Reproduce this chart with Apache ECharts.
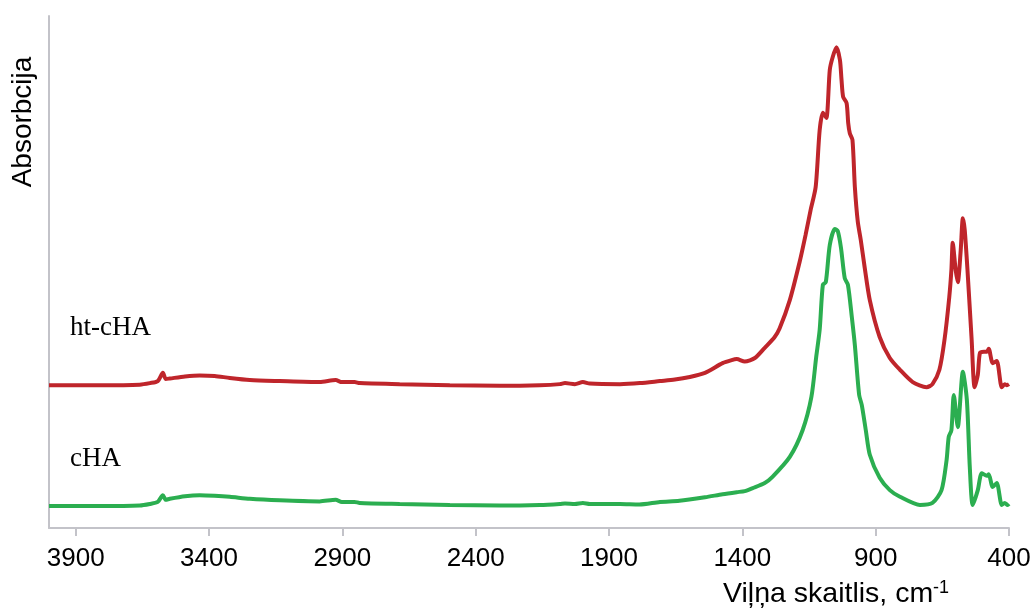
<!DOCTYPE html>
<html>
<head>
<meta charset="utf-8">
<script src="https://cdn.jsdelivr.net/npm/echarts@6/dist/echarts.min.js"></script>
<style>
  html, body { margin: 0; padding: 0; background: #fff; }
  #chart { width: 1032px; height: 610px; }
</style>
</head>
<body>
<div id="chart"></div>
<script>
  // tick values on the wavenumber axis
  var xTicks = [3900, 3400, 2900, 2400, 1900, 1400, 900, 400];

  // ht-cHA spectrum: [wavenumber, absorbance]
  var htcHA = [
    [4000, 0.279], [3810, 0.279], [3660, 0.280], [3622, 0.283], [3592, 0.287],
    [3573, 0.303], [3562, 0.291], [3547, 0.292], [3490, 0.296], [3435, 0.298],
    [3379, 0.297], [3322, 0.293], [3247, 0.289], [3135, 0.287], [2985, 0.285],
    [2925, 0.289], [2902, 0.285], [2854, 0.285], [2835, 0.283], [2685, 0.281],
    [2497, 0.279], [2309, 0.278], [2159, 0.279], [2084, 0.281], [2065, 0.283],
    [2028, 0.281], [1998, 0.285], [1972, 0.282], [1859, 0.281], [1784, 0.283],
    [1709, 0.287], [1653, 0.290], [1597, 0.295], [1540, 0.303], [1474, 0.322],
    [1440, 0.328], [1421, 0.330], [1391, 0.325], [1353, 0.332], [1316, 0.352],
    [1280, 0.372], [1260, 0.390], [1222, 0.445], [1185, 0.520], [1163, 0.572],
    [1144, 0.621], [1125, 0.666], [1110, 0.777], [1098, 0.811], [1085, 0.801],
    [1072, 0.895], [1061, 0.920], [1047, 0.939], [1034, 0.914], [1028, 0.875],
    [1022, 0.842], [1009, 0.830], [1003, 0.791], [997, 0.771], [987, 0.758],
    [978, 0.666], [967, 0.598], [956, 0.563], [941, 0.508], [922, 0.445],
    [885, 0.373], [847, 0.332], [809, 0.309], [761, 0.285], [709, 0.275],
    [687, 0.281], [661, 0.309], [642, 0.367], [624, 0.451], [616, 0.504],
    [611, 0.557], [600, 0.504], [592, 0.480], [581, 0.543], [573, 0.605],
    [566, 0.582], [555, 0.498], [540, 0.367], [529, 0.275], [517, 0.299],
    [509, 0.342], [494, 0.344], [483, 0.344], [476, 0.350], [461, 0.322],
    [446, 0.326], [427, 0.275], [416, 0.281], [408, 0.279], [400, 0.281]
  ];

  // cHA spectrum: [wavenumber, absorbance]
  var cHA = [
    [4000, 0.043], [3810, 0.043], [3660, 0.044], [3622, 0.047], [3592, 0.051],
    [3573, 0.064], [3562, 0.055], [3547, 0.057], [3490, 0.062], [3435, 0.064],
    [3379, 0.063], [3322, 0.061], [3247, 0.057], [3135, 0.054], [2985, 0.052],
    [2925, 0.055], [2902, 0.051], [2854, 0.051], [2835, 0.049], [2685, 0.047],
    [2497, 0.045], [2309, 0.044], [2159, 0.045], [2084, 0.047], [2065, 0.048],
    [2028, 0.047], [1998, 0.049], [1972, 0.047], [1859, 0.047], [1786, 0.046],
    [1709, 0.051], [1636, 0.053], [1540, 0.060], [1474, 0.066], [1421, 0.070],
    [1391, 0.072], [1361, 0.078], [1316, 0.088], [1287, 0.100], [1222, 0.139],
    [1174, 0.191], [1141, 0.256], [1123, 0.334], [1110, 0.387], [1098, 0.475],
    [1087, 0.480], [1072, 0.553], [1053, 0.584], [1042, 0.580], [1030, 0.547],
    [1016, 0.488], [1004, 0.475], [989, 0.410], [978, 0.357], [962, 0.260],
    [952, 0.240], [937, 0.191], [922, 0.143], [885, 0.098], [847, 0.074],
    [809, 0.061], [734, 0.045], [687, 0.049], [653, 0.074], [634, 0.133],
    [626, 0.178], [616, 0.191], [607, 0.260], [592, 0.197], [573, 0.305],
    [558, 0.250], [547, 0.119], [536, 0.045], [517, 0.074], [502, 0.107],
    [483, 0.102], [476, 0.105], [461, 0.080], [446, 0.088], [427, 0.045],
    [416, 0.049], [405, 0.045], [400, 0.047]
  ];

  var axisGray = '#c3c3c9';
  var myChart = echarts.init(document.getElementById('chart'), null, { renderer: 'canvas' });

  var option = {
    animation: false,
    backgroundColor: '#fff',
    grid: {
      left: 49, right: 23, top: 16, bottom: 82,
      containLabel: false,
      outerBoundsMode: 'none'
    },
    xAxis: {
      type: 'value',
      inverse: true,
      min: 400,
      max: 4000,
      interval: 500,
      splitLine: { show: false },
      axisLine: { show: true, onZero: false, lineStyle: { color: axisGray, width: 2 } },
      axisTick: {
        show: true,
        length: 8,
        customValues: xTicks,
        lineStyle: { color: axisGray, width: 2 }
      },
      axisLabel: {
        customValues: xTicks,
        margin: 18,
        color: '#000',
        fontFamily: 'Liberation Sans, Arial, sans-serif',
        fontSize: 26,
        formatter: function (v) { return String(v); }
      }
    },
    yAxis: {
      type: 'value',
      min: 0,
      max: 1,
      splitLine: { show: false },
      axisTick: { show: false },
      axisLabel: { show: false },
      axisLine: { show: true, onZero: false, lineStyle: { color: axisGray, width: 2 } }
    },
    graphic: [
      {
        type: 'text',
        x: 23,
        y: 122,
        rotation: Math.PI / 2,
        style: {
          text: 'Absorbcija',
          fill: '#000',
          font: '28px "Liberation Sans", Arial, sans-serif',
          textAlign: 'center',
          textVerticalAlign: 'middle'
        }
      },
      {
        type: 'text',
        x: 723,
        y: 594,
        style: {
          text: 'Viļņa skaitlis, cm{sup|-1}',
          fill: '#000',
          font: '28.5px "Liberation Sans", Arial, sans-serif',
          textAlign: 'left',
          textVerticalAlign: 'middle',
          rich: {
            sup: {
              fontSize: 18,
              fontFamily: 'Liberation Sans, Arial, sans-serif',
              verticalAlign: 'top',
              padding: [0, 0, 12, 0]
            }
          }
        }
      },
      {
        type: 'text',
        x: 70,
        y: 328,
        style: {
          text: 'ht-cHA',
          fill: '#000',
          font: '27px "Liberation Serif", "Times New Roman", serif',
          textAlign: 'left',
          textVerticalAlign: 'middle'
        }
      },
      {
        type: 'text',
        x: 70,
        y: 459,
        style: {
          text: 'cHA',
          fill: '#000',
          font: '27px "Liberation Serif", "Times New Roman", serif',
          textAlign: 'left',
          textVerticalAlign: 'middle'
        }
      }
    ],
    series: [
      {
        name: 'ht-cHA',
        type: 'line',
        data: htcHA,
        showSymbol: false,
        smooth: 0.25,
        lineStyle: { color: '#bf252b', width: 4 }
      },
      {
        name: 'cHA',
        type: 'line',
        data: cHA,
        showSymbol: false,
        smooth: 0.25,
        lineStyle: { color: '#2bae50', width: 4 }
      }
    ]
  };
  option && myChart.setOption(option);
</script>
</body>
</html>
